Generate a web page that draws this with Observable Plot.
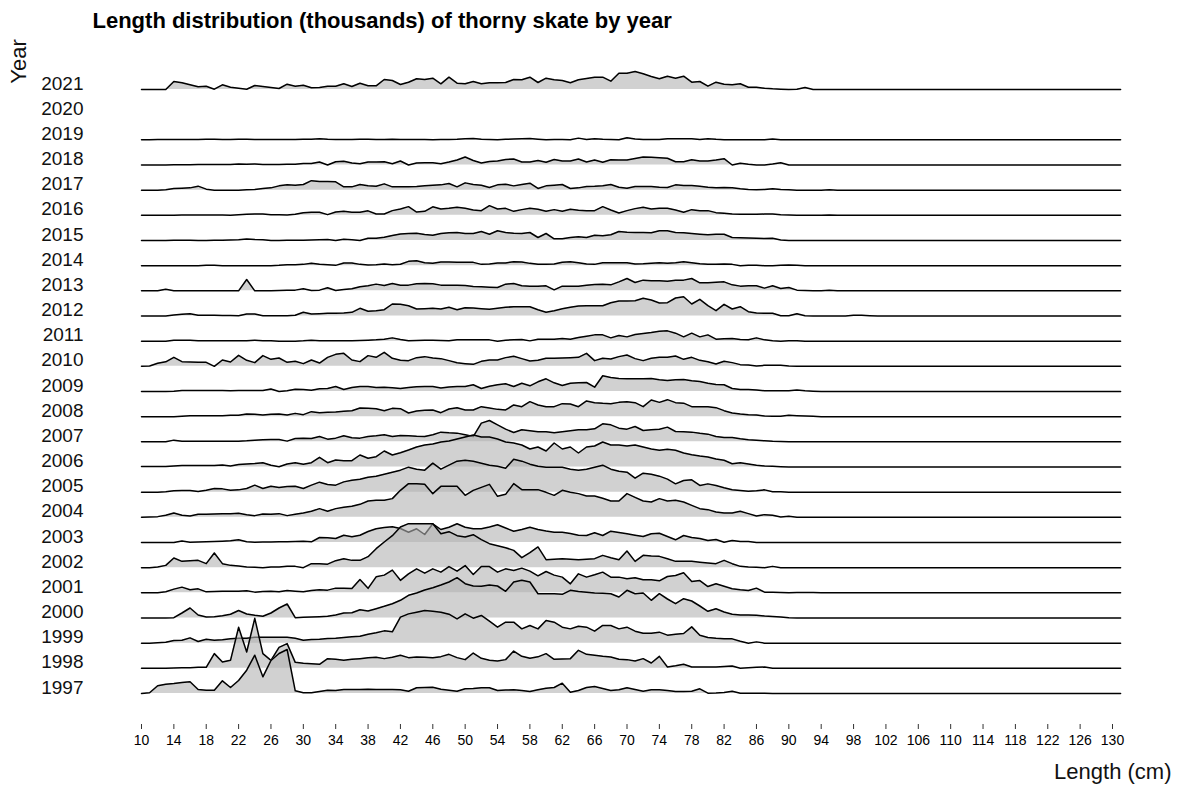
<!DOCTYPE html>
<html><head><meta charset="utf-8">
<script src="https://cdn.jsdelivr.net/npm/d3@7"></script>
<script src="https://cdn.jsdelivr.net/npm/@observablehq/plot@0.6"></script>
<style>body{margin:0;background:#fff;} svg{font-family:"Liberation Sans",Arial,sans-serif;}</style>
</head><body><div id="chart"></div>
<script>
// Length bins (cm): values listed from 10 cm upward, 1 cm steps; unlisted tail bins read as 0
const lengthMin = 10, lengthMax = 131;
const yearLabels = [1997,1998,1999,2000,2001,2002,2003,2004,2005,2006,2007,2008,2009,2010,2011,2012,2013,2014,2015,2016,2017,2018,2019,2020,2021];
const xTicks = [10,14,18,22,26,30,34,38,42,46,50,54,58,62,66,70,74,78,82,86,90,94,98,102,106,110,114,118,122,126,130];

// numbers in thousands (relative), 10 cm .. 95 cm
const y2021 = [0,0,0,0,8,6.7,4.7,2.7,3.3,0.3,4.7,2.3, 1.3,0.3,4,3,2,1,5.3,3.3, 4.3,1.7,2,3.3,3.3,5.7,3,6.3,3.7,3.7,10,9, 5,7.3,10.7,10,11.3,5.7,12.3,6.3,5.7,8,5.7,6.7,6.8,7,10,9.7, 12.3,7,11.3,9.7,9,6.7,9.7,11,12.3,12.3,8.3,16.3,16.3,18,15.7,13,10.7, 13.3,11.3,13.3,7.3,8,3.3,7.3,5.3,4.7,5.7,2.3,2.3,1.3,0.7,0.3,0,0.3,2,0,0,0];
const y2019 = [0,0,0.3,0.3,0.3,0.3,0.3,0.3,0.5,0.5,0.3,0.3, 0.5,0.7,0.3,0.3,0.3,0.3,0.3,0.3, 0.5,0.5,1,0.5,0.3,0.3,0.3,0.5,0.5,0.3,0.3,0.5, 0.3,0.3,0.3,0.3,0,0.3,0.3,0.5,1,1.3,0.7,0.3,0,0.5,0.8,1.2, 1.3,0.7,0,0.3,0.3,0,1.7,0.3,1,0.5,0.3,0,2,0.8,0.3,0.3,0.3, 1,1,1,1,0.3,1,0.5,0.2,0.2,0.2,0.2,0.2,0.2,0.8,0,0,0,0,0,0,0.2];
const y2018 = [0,0,0,0,0.3,0.3,0.3,0.5,0.5,0.5,0.5,0.5, 1,0.7,1,0.5,0.5,0.5,0.7,0.7, 1.5,1.5,3,0,3.3,3.7,2,1.3,3,3,3.3,1.3, 4,0,2,2.3,2.3,1.3,3,5,8,4.5,2,3.5,4,5.5,6,3, 3,4.5,2.7,5.5,4,4,6,3,5,2.7,5.3,5,5,6.5,8,7.7,7.3, 6.7,3.3,3.3,5.3,4,4,5,6.3,0,1.7,0.7,0,0,1,2.3,0,0,0,0,0,0];
const y2017 = [0,0,0,0.5,1.7,2,2.3,4,1,0,0,0, 0,0.3,0.7,1.7,2.3,4.3,5.3,5, 5.7,9.5,8.7,8.7,8.3,3.3,3.3,5.7,4.5,4,6.3,3.3, 3.3,3.3,3.7,4.3,5,5.3,6.7,3.3,7.3,5.7,5,2.7,5.3,6,4.3,5.7, 7,1.7,4.3,5,5.7,1.7,2.3,3.7,4,4.5,5.7,3,2,3.7,3.7,3.7,3, 2.7,5.3,4.7,4.7,4,3,2.5,2.7,2.3,1.3,0.7,0.3,0.7,1.3,0.7,0.3,0,0,0,0,0.3];
const y2016 = [0,0,0,0,0,0.3,0.3,0.3,0.3,0.3,0.3,0, 0.5,1,1.3,1.3,0.7,0.7,0.3,1, 2.5,3,3,0.7,3.3,4,3,3,4.5,1.3,1.3,4.7, 6.3,8.7,3.3,4,8.5,6.3,7,8,7,5.3,4.7,9.7,6.3,7,4,5.7, 7,6,4,5.7,4,6,5,4.7,4.7,8.7,5.3,2.3,4.7,6.7,8,6.3,7, 7,5.3,3,5.7,4.7,4.7,2.7,2,1.3,1,1,1,1.3,1.3,0.7,0.3,0,0,0,0,0.3];
const y2015 = [0,0,0,0,0.3,0.3,0.3,0,0,0.3,0.3,0.5, 0.7,1.5,1,0.7,0,0,0.3,0.3, 0.3,0.5,0.7,1,0,1.3,0.7,0,2.3,2.3,3.3,5, 6.5,7,7.3,6,5.3,7,7.8,8,7,7,9,6.3,9.7,8,7.3,7, 8,3,7,1.7,1.7,3,3.7,3,5.3,4.7,5.7,9,8.3,8,8,7.7,9.7, 9.7,8,7.7,7,6.3,5.7,6.3,6.3,3,2.7,2.5,2.3,2,2.3,0.5,0,0,0,0,0,0];
const y2014 = [0,0,0,0,0,0,0,0,0.5,0.3,0,0, 0,0,0,0,0,0.3,1,1, 1.3,2.5,1.5,1,0.3,2.7,2.7,1.3,0.7,1,1.7,1, 1.5,4.3,5,3,2.5,3.7,3.7,3.5,3.5,3.3,1.3,1.7,2.7,2.7,4,3.7, 2.3,1.3,1.3,1.7,3.5,4,3,1.7,1.3,3,3,3,3,1.7,2,2.5,3, 2.3,3,4,3,2,1.5,1.3,1.7,1.3,0,0.3,0.5,0,0,0.3,0.7,0.3,0,0,0,0];
const y2013 = [0,0,0,1.5,0,0,0,0,0,0,0,0, 0,11.3,0,0,0,0.3,0.7,0.7, 2,0.3,0.7,3,0.3,1.3,2,4,5,6.7,5.3,7.3, 5.5,5.7,7,7.3,7,5.7,5.7,5.7,5.3,4.3,4,3.7,3.3,6.7,7.3,5, 4.7,4.7,5,1,4.7,4.7,4.7,5.7,6.3,6.7,6,9,12.3,8.3,10.7,10,10, 9.7,10.7,10.7,12.3,8,8,8.5,9,6,4.7,5,5,2.7,5,2.3,3.3,0.7,0.3,0,0,0.7];
const y2012 = [0,0,0,0,1,1.7,2.3,0.7,0.7,0.7,0.5,0.5, 0.3,2,2,0.3,0.3,0.3,0.3,0.7, 3.7,2,2.3,2.7,2.7,3,3.7,7.7,4.7,5.3,6.3,12, 11.7,10.3,7,7.3,7.7,7,8.7,6.3,8.3,8,7.3,6.7,7.7,8.7,9.3,9.3, 9.3,6.3,3.7,5.3,7.3,8.7,10,10.3,10.3,10.3,13.3,15,15,15.3,17.7,16,13, 13.3,18,19.3,12,16.7,10.3,5.3,11.7,7,9.3,4.3,3,2.7,2.7,0.3,0.3,2.3,0.3,0,0,0, 0,0,0.7,0.7,0.3];
const y2011 = [0,0,0,0,1,1,1,0.5,0.3,0.3,0.3,0.3, 0.3,0.5,1,0.3,0.3,0,0,0, 0.3,1,0.5,0.3,0.3,0.3,0.5,0.7,1,1.3,2,3.3, 1.7,0.5,0.7,1,1,0.7,0.3,1.3,1.5,1.3,1.3,1.3,0,1,1.3,1.7, 0.3,2,2,2,2.7,2,3.7,5,6.3,6.3,3.3,5.7,4.3,6.7,7.7,8.7,10, 10.3,8,4.3,8,4.3,6.3,2,2.5,2.7,1.7,1.5,3.3,1.3,0.5,0,0.3,0.3,0,0,0,0];
const y2010 = [0,0.3,3,4.5,9,4.7,4.3,4,4,0,6.3,4.3, 11,6,3.7,10.7,7,8.3,4,5, 2.7,6.3,3.3,9,12,13,6.3,4.7,10.7,9,14,8, 6,5.7,8.7,9.7,8.3,7.7,5.7,3.5,2.7,2,5,6.3,6.3,8.7,10,7.7, 5.3,6,8,8,8.3,8.7,9,13,5.7,8,7.3,9.7,11.3,7.7,5.7,8,9, 9,10.3,7,9,6,4.5,2.3,5,3.7,1.7,1.3,0.3,1,1,1,0.3,0,0,0,0,0];
const y2009 = [0,0,0,0,0.3,1,1,1,1,1,1,0.7, 1,1,1,1,2.5,0,0.7,2.3, 2,1.3,2.7,3,5,2,4,5,5,4,4.3,3.7, 3,4,4.7,5,5,3.5,4.5,5,5,6.7,3,5.3,6.7,7.7,5,8.3, 5.7,9.7,12.7,8.7,6,8.3,8.7,9,4.3,15.7,14,13,12.7,12.7,12.7,13,11.7, 11,11.7,12,10.7,10,8.3,7,6.7,3,2,2,1.5,0.7,0.7,0.7,0.7,1.5,0.7,0.3,0,0];
const y2008 = [0,0,0,0,0,0.5,1,1,1,1,1,1.3, 1.5,2.7,2.3,1.7,2.5,2.7,1.7,3.3, 2,5,4,4.3,4.7,5.3,6,8.7,8.3,8,6,8.3, 8,3.7,5.7,6.3,6.7,4,7.7,9,6.7,6.7,10,8.7,7.3,6.7,11.7,10, 15,11.7,10,10,13,12.7,10,15.7,14,13.3,13,14.3,15,14,10,16.7,14.3, 17,14,13.5,10,10,10,9,6,3.7,2.7,2,1.7,0.7,0.3,0.3,1.3,1,0.7,0.3,0,0];
const y2007 = [0,0,0,0,1.7,0.7,0.7,0.7,0.7,0.7,0.7,0.7, 0.7,1,1.7,2,2.3,2.3,0.7,3.3, 3.7,3.3,5.3,2.7,3.7,6,4,3.7,5.3,6,7,5.3, 6.3,6,5.5,5.3,7,9.7,9,8.7,7,5.3,18.7,21.3,17,12.7,9.3,12, 11,10,10,9,10,11,12,12,13,18,17,13.7,12.7,15.3,11.3,12,12.5, 14.7,10.3,10,9.7,8.5,7.7,5.3,4.3,4.3,3,2,1.5,1,0.5,0.3,0,0,0,0,0,0];
const y2006 = [0.5,0.5,0.5,0.5,1,1.5,1.5,1.5,1.5,1.5,2,1, 2.5,3,3.5,4.3,1.7,0.3,3,4.3, 2.7,4.3,9.7,4.3,7,6.3,6.3,12,8.7,10.3,16,12, 14.3,17,20,22,23,25,26,28,30,32,30,30,28,25,24,22, 18,20,16,24,18,20,14,20,21,25,22,22,21,22,20,18,16.7, 17.7,16.7,14,12.3,11,10,8,6.7,3.3,4.3,3,1.7,1,0.7,0.3,0,0,0,0,0,0];
const y2005 = [0,0,0,0.3,1.3,1.7,1.7,0.7,2,3.7,3.3,2, 2.3,3.7,7,3.7,6,4.7,5.7,6, 3.7,7,10,7.7,7,10.3,12,13,15,16,18,20, 22,25,23,22,29,23,27,31,32,31,29,27,26,24,33,31, 28,26,25,25,25,23,22,23,25,27,23,21,20,14,19,18,16, 13,8.3,11.7,12.3,6.7,8.3,6.7,4.5,2.5,1.7,1,1.5,2.3,0.5,0.3,0,0,0,0,0,0];
const y2004 = [0,0.3,0.7,2,4.3,2,1.3,3,3,3.3,3.7,3.7, 4,2.5,1.7,3.3,3,3.7,1.7,3, 4.3,6,8.7,6,8.7,10,11,13,16.3,17,17,18.7, 27,33.7,33.5,33,23.7,31,31,31,22,27,30,33,21,23,33.7,27.7, 27.7,27.7,25,22,27,25,23.7,21.3,21.3,19,16.3,16.3,23.7,20,16.3,15.3,18.7, 16.3,17,15.3,12,8.7,7.7,5.3,4.3,4.3,6,3.7,1.3,2.7,2,0.3,1,0,0,0,0,0];
const y2003 = [0,0,0,0,0,1.5,0.3,0.5,0.7,1,1.3,1.7, 2.7,0.7,0.3,0.5,0.5,0.7,0.7,1, 1.3,0.7,5,4.7,4,7.3,5.7,7.3,11,13.7,15,15.7, 14,10.3,13.7,8,18.7,13,15.3,18.7,15.3,13.7,13.7,15.5,17.7,14.5,11.3,13, 15.3,13,11.5,10.3,10.3,9,7.3,7,9.7,7,11.3,10,8.7,7.3,6,8.7,9.3, 6,2.7,7,5,4,2,3,0.3,2,1,1,0,0,0,0,0,0,0,0,0,0];
const y2002 = [0,0,0.7,2.3,9.7,6.3,7,7.3,4,14.7,4,2.3, 1.7,0.7,0.3,0,0.7,0.7,1.3,1.3, 0,4,4,3.5,7,9,7.3,7.3,11,19,25.7,32, 40.7,44,44,44,44,34,36,32,30.7,33,28,24,22,20,17.3,10, 15,20.7,8,8.5,9,8.5,8,8.5,9,12.3,10,8,16.7,6.3,12.3,11.7,11.3, 9,6.3,6.3,6.3,5.5,4.7,4,7.3,4,1.3,0.7,0.3,0,1.3,0,0,0,0,0,0,0];
const y2001 = [0,0,0,1,3.7,5.7,3,4,1,1.3,1.7,1.7, 1.7,2,0.7,1.3,1.7,1,2.3,1.7, 1,2.3,3,2.7,4.7,4.5,4.3,13.3,4.5,16,17.7,22.7, 12.5,19,24,19.7,24,20.7,26.3,21.7,27.3,18.3,26.3,26.3,20.7,24,22.3,24.7, 21.7,17,21.3,17.7,15.7,9,19,15.7,18,20.7,15.7,15.7,14,15,13,13,12, 16.3,17.3,20,11.3,12.3,6.3,9,6.5,4,3,2.3,4.7,0.7,0.5,0.3,0,0.3,0.3,0.3,0,0];
const y2000 = [0,0,0,0,0.3,5,10,3,1,1.3,2.3,3.7, 7.5,4,2.7,1.7,5,10,14,0.3, 0.7,1,1.3,1.7,3,5,5.3,8.3,7,9.3,11.7,14.3, 17.7,22.7,25,28,30.3,33,36,40.3,34.3,32,31.7,33,32,26.7,36,37.7, 36,24.3,24.3,24.3,23.7,27.7,26.5,25.7,25,24.7,24.3,21,27.7,24.3,25,17.7,24.3, 19,14.3,19.3,17,12,6.7,9.3,6,3.7,3,3,2.7,2,1.5,1,0.3,0,0,0,0,0];
const y1999 = [0,0,0.5,1,2.7,3,5.3,1.7,4,3,3.5,4.3, 5,5,6,6,6,6,6,5, 3,3.7,4,4.7,5,5.7,6.5,7,9,10.5,12.3,11.3, 26,29.3,31,32.7,32,31,29,24.3,29.3,25,27.7,22,16,21,21,14.3, 17.7,14.3,22.7,21,16,14.3,17,16,12,17.7,17.7,14.3,16,12,10,10,11, 8,9,9.7,16.3,8,5.7,5,4.5,4.3,2,0,1.3,0,0,0,0,0,0,0,0,0];
const y1998 = [0,0,0,0,0.3,0.5,0.7,1,1,14.7,6.3,8, 41,16.3,50,14.7,8,21,24.7,6, 5,4.7,4,9.7,9,8,9,9.7,10.5,11,9.7,11, 13,10.7,11.3,11,10.7,11.7,14,10.7,8.7,15.3,10,8,7.3,8.7,17.3,12, 10,11.5,14.7,9,9.3,9.7,18,14,13,12,11.3,9,8.7,7.3,9.7,5.3,12, 1.3,2.5,4,1.3,1.3,1.3,1.3,1.8,2.3,0,0.5,1,1.3,0,0,0,0,0,0,0,0];
const y1997 = [0,0.7,7.7,9.3,10,11,11.7,4,3.3,3.3,12.7,6, 13,23.3,38.3,16.7,33,40,44,2.7, 0.7,0.7,2,3.3,3,4,4,4,4.3,4,4,4, 3.7,2.3,5.7,6,6.3,4.3,3.3,2.3,4.7,5,5.7,5.7,3,3.5,3.7,3, 2,3.7,5.3,6,10.3,1.3,3,6,7,5,3,3.7,5.7,4,2.3,3.7,3.7, 3,2,2,2.3,4.7,0.3,0.5,1,2.3,0.3,0.3,0.3,0.3,0,0,0,0,0,0,0,0];

const seriesByYear = {1997:y1997,1998:y1998,1999:y1999,2000:y2000,2001:y2001,2002:y2002,2003:y2003,2004:y2004,2005:y2005,2006:y2006,2007:y2007,2008:y2008,2009:y2009,2010:y2010,2011:y2011,2012:y2012,2013:y2013,2014:y2014,2015:y2015,2016:y2016,2017:y2017,2018:y2018,2019:y2019,2021:y2021};

const W = 1177, H = 786;
const mLeft = 141, mRight = 1177 - 1112, mTop = 89, frameBottom = 724;
const rowPx = (693 - 89) / 24;               // pixels between year baselines
const yMin = 1997 - (frameBottom - 693) / rowPx;
const k = 1 / rowPx;                          // value (thousands) -> year units

function rows(year) {
  const vals = seriesByYear[year];
  const out = [];
  for (let L = lengthMin; L <= lengthMax; L++) {
    const i = L - lengthMin;
    out.push({L, year, v: i < vals.length ? vals[i] : 0});
  }
  return out;
}

const marks = [];
const drawOrder = Object.keys(seriesByYear).map(Number).sort((a, b) => b - a); // top first, lower ridges in front
for (const yr of drawOrder) {
  const r = rows(yr);
  marks.push(Plot.areaY(r, {x: "L", y1: d => d.year, y2: d => d.year + d.v * k, fill: "#b3b3b3", fillOpacity: 0.6}));
  marks.push(Plot.lineY(r, {x: "L", y: d => d.year + d.v * k, stroke: "#000", strokeWidth: 1.5}));
}

marks.push(Plot.axisX({ticks: xTicks, tickSize: 5, tickPadding: 6, fontSize: 14, label: null, stroke: "#333"}));
marks.push(Plot.text(yearLabels, {y: d => d, frameAnchor: "left", dx: -(mLeft - 83), dy: -6, textAnchor: "end", lineAnchor: "middle", text: d => String(d), fontSize: 19, fill: "#111"}));
marks.push(Plot.text(["Length distribution (thousands) of thorny skate by year"], {frameAnchor: "top-left", dx: 92 - mLeft, dy: 20 - mTop, textAnchor: "start", lineAnchor: "middle", fontSize: 22, fontWeight: "bold", fill: "#000"}));
marks.push(Plot.text(["Year"], {frameAnchor: "top-left", dx: 18 - mLeft, dy: 61 - mTop, rotate: -90, textAnchor: "middle", lineAnchor: "middle", fontSize: 22, fill: "#111"}));
marks.push(Plot.text(["Length (cm)"], {frameAnchor: "bottom-right", dx: 1171 - 1112, dy: 771 - frameBottom, textAnchor: "end", lineAnchor: "middle", fontSize: 22, fill: "#111"}));

const chart = Plot.plot({
  width: W, height: H,
  marginLeft: mLeft, marginRight: mRight, marginTop: mTop, marginBottom: H - frameBottom,
  x: {domain: [10, 130], axis: null},
  y: {domain: [yMin, 2021], axis: null},
  style: {fontFamily: "'Liberation Sans', Arial, sans-serif", background: "#fff", overflow: "visible"},
  marks
});
document.getElementById("chart").appendChild(chart);
</script>
</body></html>
